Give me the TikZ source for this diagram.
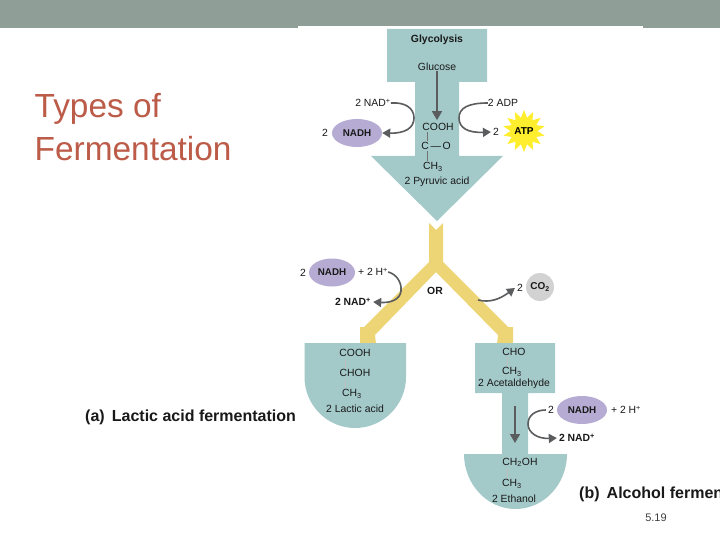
\documentclass[tikz,border=0pt]{standalone}
\usepackage{fontspec}
\setmainfont{Liberation Sans}
\usetikzlibrary{arrows.meta,shapes.geometric}
\definecolor{bandc}{HTML}{8F9E96}
\definecolor{tealc}{HTML}{A3C9C9}
\definecolor{yelc}{HTML}{EDD475}
\definecolor{purc}{HTML}{B6ACD3}
\definecolor{greyc}{HTML}{D2D2D2}
\definecolor{starc}{HTML}{FFEE2E}
\definecolor{arrc}{HTML}{5A5C5E}
\definecolor{titlec}{HTML}{BC5B48}
\tikzset{
 x=1pt,y=-1pt,
 lab/.style={font=\fontsize{10.4}{12}\selectfont,text=black!90,inner sep=0pt},
 blab/.style={font=\fontsize{10.4}{12}\selectfont\bfseries,text=black!90,inner sep=0pt},
 nadh/.style={ellipse,fill=purc,inner sep=0pt,minimum width=50pt,minimum height=28pt,font=\fontsize{9.8}{12}\selectfont\bfseries,text=black!90},
 bigcap/.style={font=\fontsize{16}{19}\selectfont\bfseries,text=black!90,inner sep=0pt},
 curv/.style={draw=arrc,line width=1.6pt,-{Triangle[length=8pt,width=9pt]}},
 down/.style={draw=arrc,line width=1.6pt,-{Triangle[length=9pt,width=10pt]}},
 bond/.style={draw=black!55,line width=0.6pt},
 fbond/.style={draw=black!25,line width=0.6pt},
}
\begin{document}
\begin{tikzpicture}
\useasboundingbox (0,0) rectangle (720,540);
\fill[white] (0,0) rectangle (720,540);
\fill[bandc] (0,0) rectangle (720,28);
\fill[white] (298,26) rectangle (643,60);
% yellow Y
\fill[yelc] (429,223) -- (436,230) -- (443,223) -- (443,262) -- (508,327) -- (513,327) -- (513,344) -- (497,344) -- (498,335) -- (436,272) -- (375,335) -- (376,344) -- (360,344) -- (360,327) -- (364,327) -- (429,262) -- cycle;
% teal shapes
\fill[tealc] (387,29) -- (487,29) -- (487,82) -- (459,82) -- (459,156) -- (503,156) -- (437,221) -- (371,156) -- (415,156) -- (415,82) -- (387,82) -- cycle;
\fill[tealc] (304.5,343) -- (406,343) -- (406,377) .. controls (406,405) and (383,428) .. (355,428) .. controls (327,428) and (304.5,405) .. (304.5,377) -- cycle;
\fill[tealc] (475,343) -- (555,343) -- (555,393) -- (528,393) -- (528,454) -- (567,454) .. controls (567,484) and (544,509) .. (515.5,509) .. controls (487,509) and (464,484) .. (464,454) -- (502,454) -- (502,393) -- (475,393) -- cycle;
% title
\node[anchor=base west,inner sep=0pt,text=titlec,font=\fontsize{33.4}{40}\selectfont] (title1) at (34.5,118) {Types of};
\node[anchor=base west,inner sep=0pt,text=titlec,font=\fontsize{33.4}{40}\selectfont] (title2) at (34.5,161) {Fermentation};
% upper
\node[blab] (glyco) at (437,40) {Glycolysis};
\node[lab] (gluc) at (437,67) {Glucose};
\node[lab] (cooh) at (438,127) {COOH};
\node[lab] (co) at (436,146) {C\,—\,O};
\node[lab] (ch3a) at (433,167) {CH\textsubscript{3}};
\node[lab] (pyr) at (437,182) {2 Pyruvic acid};
\draw[down,shorten >=3pt] (gluc.south) -- (gluc.south |- cooh.north);
\draw[bond] (427,132.5) -- (427,141);
\draw[bond] (427,151) -- (427,161);
\node[lab] (nad1) at (373,103) {2 NAD\textsuperscript{+}};
\node[lab] (two1) at (325,133) {2};
\node[nadh] (nadh1) at (357,133) {NADH};
\draw[curv] (nad1.east) .. controls (405,102) and (414,108) .. (414,118) .. controls (414,128) and (405,133.5) .. (nadh1.east);
\node[lab] (adp) at (503,103) {2 ADP};
\node[lab] (two2) at (496,132) {2};
\node[star,star points=14,star point ratio=1.55,fill=starc,inner sep=0pt,minimum size=42pt,font=\fontsize{10}{12}\selectfont\bfseries] (atp) at (524,131) {ATP};
\draw[curv] (adp.west) .. controls (468,103) and (459,108) .. (459,118) .. controls (459,128) and (468,133) .. ([xshift=-2pt]two2.west);
% middle
\node[lab] (two3) at (303,272.5) {2};
\node[nadh,minimum width=46pt] (nadh2) at (332,272.5) {NADH};
\node[lab] (h1) at (373,272) {+ 2 H\textsuperscript{+}};
\node[blab] (nad2) at (353,302) {2 NAD\textsuperscript{+}};
\draw[curv] (h1.east) .. controls (396,274) and (402,282) .. (401,291) .. controls (400,300) and (390,303) .. ([xshift=2pt]nad2.east);
\node[blab] (orn) at (435,291) {OR};
\node[lab] (two4) at (520,288) {2};
\node[circle,fill=greyc,inner sep=0pt,minimum size=28pt,font=\fontsize{10}{12}\selectfont\bfseries,text=black!90] (co2) at (540,287) {CO\textsubscript{2}};
\coordinate (co2s) at (478,300);
\draw[curv] (co2s) .. controls (490,303) and (500,299) .. ([xshift=-2pt]two4.west);
% left products
\node[lab] (la1) at (355,353) {COOH};
\node[lab] (la2) at (355,373) {CHOH};
\node[lab] (la3) at (352,394) {CH\textsubscript{3}};
\node[lab] (la4) at (355,408.5) {2 Lactic acid};
\draw[fbond] (345,358.5) -- (345,367.5);
\draw[fbond] (345,378.5) -- (345,388);
% right products
\node[lab] (ac1) at (514,351.5) {CHO};
\node[lab] (ac2) at (512,372) {CH\textsubscript{3}};
\node[lab] (ac3) at (514,384) {2 Acetaldehyde};
\draw[fbond] (507,357) -- (507,366);
\coordinate (arrtop) at (515,406);
\coordinate (arrbot) at (515,443);
\draw[down] (arrtop) -- (arrbot);
\node[lab] (two5) at (551,410) {2};
\node[nadh] (nadh3) at (582,410) {NADH};
\node[lab] (h2) at (626,410) {+ 2 H\textsuperscript{+}};
\node[blab] (nad3) at (577,438) {2 NAD\textsuperscript{+}};
\draw[curv] ([xshift=-2pt]two5.west) .. controls (536,410) and (528,415) .. (528,424) .. controls (528,433) and (538,439) .. ([xshift=-2pt]nad3.west);
\node[lab] (et1) at (520,462.5) {CH\textsubscript{2}OH};
\node[lab] (et2) at (512,484) {CH\textsubscript{3}};
\node[lab] (et3) at (514,498.5) {2 Ethanol};
\draw[fbond] (507,468) -- (507,478);
% captions
\node[bigcap,anchor=base west] (capa) at (85,421) {(a) \,Lactic acid fermentation};
\node[bigcap,anchor=base west] (capb) at (579,498) {(b) \,Alcohol fermen};
\node[anchor=center,inner sep=0pt,text=black!75,font=\fontsize{11}{13}\selectfont] (pg) at (656,518) {5.19};
\end{tikzpicture}
\end{document}
